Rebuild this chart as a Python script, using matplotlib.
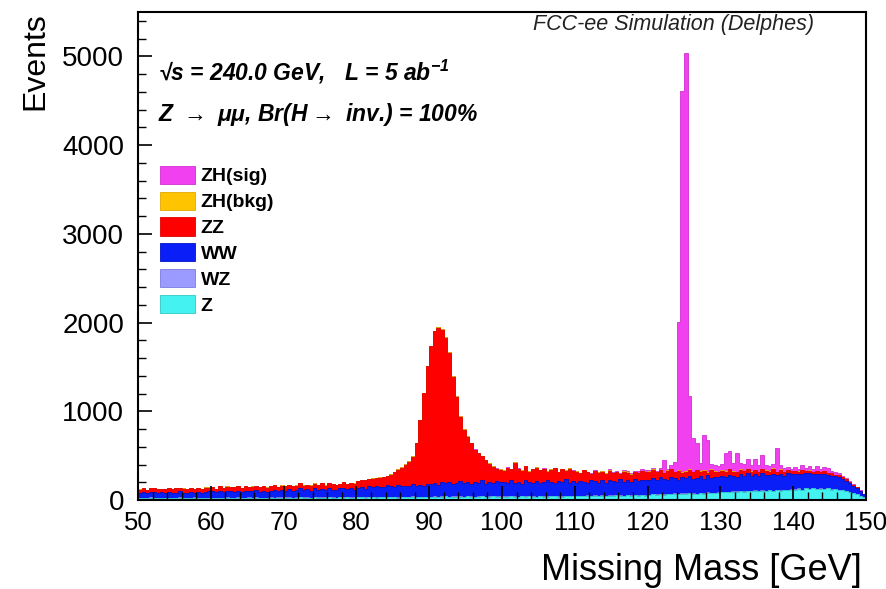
import numpy as np
import matplotlib.pyplot as plt
from matplotlib.ticker import MultipleLocator

plt.rcParams['font.family'] = ['Liberation Sans', 'DejaVu Sans']
plt.rcParams['mathtext.default'] = 'regular'

# 200 bins of 0.5 GeV between 50 and 150 GeV
mass_edges = np.arange(50.0, 150.25, 0.5)
mass_centers = 0.5 * (mass_edges[:-1] + mass_edges[1:])

# events per bin (rows = 10 GeV)
z_counts = [
    18, 22, 20, 25, 19, 21, 23, 17, 22, 24, 20, 26, 21, 19, 23, 25, 20, 22, 24, 21,
    23, 20, 25, 22, 27, 21, 24, 26, 22, 20, 25, 23, 28, 22, 24, 21, 26, 23, 25, 27,
    24, 28, 23, 26, 30, 25, 27, 24, 29, 26, 28, 25, 31, 27, 24, 29, 26, 30, 28, 25,
    29, 32, 27, 31, 34, 28, 30, 33, 29, 35, 31, 28, 34, 30, 33, 36, 29, 32, 35, 31,
    34, 38, 31, 36, 40, 33, 37, 35, 39, 34, 41, 36, 33, 38, 40, 35, 37, 42, 36, 39,
    38, 35, 41, 37, 34, 40, 36, 43, 38, 35, 42, 39, 37, 41, 44, 38, 36, 43, 40, 45,
    42, 46, 40, 48, 44, 47, 43, 50, 45, 49, 46, 52, 48, 44, 51, 47, 53, 49, 55, 50,
    56, 62, 58, 65, 60, 68, 63, 70, 66, 72, 69, 75, 71, 68, 77, 73, 80, 76, 74, 82,
    85, 90, 88, 95, 92, 98, 94, 101, 97, 104, 99, 106, 102, 108, 100, 111, 105, 113, 109, 115,
    118, 125, 112, 130, 121, 135, 124, 128, 119, 132, 115, 122, 108, 112, 96, 90, 75, 62, 48, 35,
]
wz_counts = [
    4, 3, 5, 4, 3, 4, 5, 3, 4, 4, 3, 5, 4, 4, 3, 5, 4, 3, 4, 5,
    4, 5, 3, 4, 5, 4, 3, 5, 4, 4, 5, 3, 4, 5, 4, 4, 3, 5, 4, 4,
    5, 4, 4, 3, 5, 4, 5, 4, 3, 5, 4, 4, 5, 3, 4, 5, 4, 4, 5, 4,
    4, 5, 4, 5, 4, 3, 5, 4, 5, 4, 4, 5, 4, 3, 5, 4, 5, 4, 4, 5,
    5, 4, 5, 4, 5, 4, 4, 5, 4, 5, 4, 5, 4, 4, 5, 4, 5, 4, 5, 4,
    4, 5, 4, 5, 4, 5, 4, 4, 5, 4, 5, 4, 5, 4, 4, 5, 4, 5, 4, 5,
    5, 4, 5, 4, 5, 5, 4, 5, 4, 5, 5, 4, 5, 4, 5, 5, 4, 5, 4, 5,
    5, 5, 4, 5, 5, 4, 5, 5, 4, 5, 5, 4, 5, 5, 4, 5, 5, 4, 5, 5,
    5, 4, 5, 5, 4, 5, 5, 4, 5, 5, 4, 5, 5, 4, 5, 5, 4, 5, 5, 4,
    4, 5, 4, 5, 4, 4, 5, 4, 4, 3, 4, 3, 4, 3, 3, 2, 3, 2, 2, 1,
]
ww_counts = [
    55, 62, 50, 58, 66, 52, 60, 57, 64, 53, 61, 68, 56, 59, 63, 51, 67, 58, 62, 70,
    72, 60, 78, 65, 70, 82, 63, 75, 68, 80, 66, 73, 85, 62, 77, 70, 74, 88, 67, 79,
    76, 90, 72, 84, 95, 80, 88, 74, 98, 85, 92, 79, 102, 88, 83, 96, 105, 90, 99, 86,
    104, 112, 98, 118, 108, 125, 115, 104, 130, 120, 112, 135, 122, 128, 118, 140, 126, 132, 124, 145,
    136, 150, 128, 158, 142, 165, 138, 155, 170, 147, 160, 135, 168, 152, 176, 145, 162, 150, 172, 158,
    160, 148, 175, 152, 168, 140, 182, 158, 150, 172, 145, 165, 178, 155, 142, 170, 160, 185, 150, 163,
    148, 165, 155, 140, 172, 158, 150, 168, 145, 176, 162, 152, 180, 158, 166, 148, 185, 160, 170, 175,
    165, 185, 158, 190, 172, 150, 195, 168, 160, 182, 175, 192, 165, 178, 188, 160, 195, 172, 185, 170,
    178, 165, 190, 172, 160, 185, 170, 195, 168, 180, 162, 188, 175, 170, 192, 165, 180, 158, 185, 172,
    170, 158, 182, 165, 175, 150, 168, 160, 172, 145, 155, 140, 148, 125, 120, 100, 85, 70, 50, 30,
]
zz_counts = [
    40, 45, 38, 48, 42, 50, 36, 46, 44, 40, 52, 38, 47, 43, 49, 41, 45, 39, 50, 44,
    48, 42, 52, 45, 50, 40, 55, 47, 43, 53, 46, 51, 41, 56, 48, 44, 54, 49, 45, 52,
    50, 45, 55, 48, 58, 52, 46, 60, 53, 49, 62, 55, 50, 64, 57, 52, 66, 58, 54, 68,
    78, 72, 96, 82, 94, 88, 101, 119, 102, 126, 163, 173, 205, 238, 275, 310, 481, 732, 1042, 1325,
    1556, 1708, 1777, 1722, 1644, 1458, 1211, 971, 727, 605, 510, 465, 360, 336, 270, 266, 207, 179, 138, 139,
    128, 173, 125, 227, 144, 146, 158, 115, 153, 154, 144, 142, 101, 140, 170, 98, 145, 98, 161, 113,
    126, 85, 136, 118, 70, 116, 108, 93, 101, 101, 88, 102, 58, 114, 84, 86, 73, 87, 96, 81,
    95, 89, 90, 76, 64, 103, 83, 68, 100, 42, 72, 69, 70, 85, 46, 93, 26, 88, 57, 54,
    63, 56, 63, 49, 54, 53, 57, 50, 46, 47, 45, 47, 49, 38, 54, 35, 51, 35, 37, 34,
    35, 30, 40, 28, 32, 25, 30, 22, 28, 20, 25, 18, 20, 15, 18, 12, 10, 8, 6, 4,
]
zh_bkg_counts = [
    2, 3, 2, 3, 2, 2, 3, 2, 3, 2, 3, 2, 2, 3, 2, 3, 2, 2, 3, 2,
    3, 2, 3, 2, 3, 3, 2, 3, 2, 3, 2, 3, 3, 2, 3, 2, 3, 2, 3, 3,
    3, 3, 2, 3, 3, 4, 3, 3, 4, 3, 3, 4, 3, 3, 4, 3, 4, 3, 4, 3,
    4, 3, 4, 4, 3, 4, 4, 3, 4, 4, 4, 5, 4, 4, 5, 4, 5, 5, 6, 6,
    7, 7, 8, 7, 7, 6, 6, 5, 5, 5, 4, 5, 4, 4, 5, 4, 4, 5, 4, 4,
    4, 5, 4, 4, 5, 4, 5, 4, 4, 5, 4, 5, 4, 5, 4, 5, 5, 4, 5, 5,
    5, 4, 5, 5, 6, 5, 5, 6, 5, 6, 5, 6, 6, 5, 6, 6, 5, 6, 6, 7,
    6, 7, 6, 7, 7, 8, 7, 8, 9, 10, 9, 8, 8, 7, 7, 8, 7, 7, 6, 7,
    6, 7, 6, 6, 7, 6, 6, 5, 6, 6, 5, 6, 5, 5, 6, 5, 5, 4, 5, 5,
    4, 5, 4, 4, 5, 4, 4, 3, 4, 3, 3, 3, 2, 2, 2, 2, 1, 1, 1, 1,
]
zh_sig_counts = [
    0, 0, 0, 0, 0, 0, 0, 0, 0, 0, 0, 0, 0, 0, 0, 0, 0, 0, 0, 0,
    0, 0, 0, 0, 0, 0, 0, 0, 0, 0, 0, 0, 0, 0, 0, 0, 0, 0, 0, 0,
    0, 0, 0, 0, 0, 0, 0, 0, 0, 0, 0, 0, 0, 0, 0, 0, 0, 0, 0, 0,
    0, 0, 0, 0, 0, 0, 0, 0, 0, 1, 0, 0, 1, 0, 0, 1, 0, 1, 0, 1,
    1, 0, 1, 1, 0, 1, 1, 0, 1, 1, 1, 0, 1, 1, 1, 1, 0, 1, 1, 1,
    1, 1, 1, 1, 2, 1, 1, 1, 2, 1, 1, 2, 1, 1, 2, 1, 2, 1, 2, 2,
    2, 3, 2, 4, 3, 5, 4, 6, 5, 8, 6, 10, 8, 12, 10, 15, 12, 18, 14, 20,
    15, 15, 15, 20, 145, 20, 40, 105, 1665, 4295, 4705, 825, 385, 300, 100, 395, 360, 55, 65, 65,
    70, 210, 200, 90, 215, 65, 70, 110, 75, 120, 85, 150, 60, 55, 50, 270, 45, 50, 30, 25,
    40, 30, 55, 25, 45, 30, 50, 35, 40, 60, 30, 25, 20, 15, 10, 8, 5, 3, 2, 1,
]

labels = ['Z', 'WZ', 'WW', 'ZZ', 'ZH(bkg)', 'ZH(sig)']
colors = ['#44f2f2', '#9a9aff', '#0a1ef8', '#ff0000', '#ffc400', '#f040f0']
edge_colors = ['#30c8c8', '#7a7ae0', '#0012c8', '#e00000', '#e0a800', '#d030d0']
series = [z_counts, wz_counts, ww_counts, zz_counts, zh_bkg_counts, zh_sig_counts]

fig = plt.figure(figsize=(8.86, 5.89), dpi=100)
ax = fig.add_axes([138 / 886, 1 - 500 / 589, 728 / 886, 488 / 589])

_, _, patches = ax.hist([mass_centers] * len(series), bins=mass_edges, weights=series,
                        stacked=True, histtype='stepfilled', color=colors, label=labels)
for poly, ec in zip(patches, edge_colors):
    for p in poly:
        p.set_edgecolor(ec)
        p.set_linewidth(0.6)

ax.set_xlim(50, 150)
ax.set_ylim(0, 5500)
ax.xaxis.set_major_locator(MultipleLocator(10))
ax.xaxis.set_minor_locator(MultipleLocator(2))
ax.yaxis.set_major_locator(MultipleLocator(1000))
ax.yaxis.set_minor_locator(MultipleLocator(200))
ax.tick_params(which='both', direction='in', top=False, right=False)
ax.tick_params(which='major', length=10, width=1.2)
ax.tick_params(which='minor', length=5.5, width=1.0)
ax.tick_params(axis='y', pad=10, labelsize=20)
ax.tick_params(axis='x', pad=8, labelsize=18.5)
for s in ax.spines.values():
    s.set_linewidth(1.5)

# legend from top of stack to bottom, as ROOT draws it
handles, labs = ax.get_legend_handles_labels()
by_label = dict(zip(labs, handles))
order = labels[::-1]
ax.legend([by_label[k] for k in order], order, loc='upper left', bbox_to_anchor=(0.03, 0.685),
          frameon=False, borderpad=0, borderaxespad=0, prop={'weight': 'bold', 'size': 14},
          handlelength=1.8, handleheight=1.05, labelspacing=0.32, handletextpad=0.3)

ax.text(0.0275, 0.877, '√s = 240.0 GeV,   L = 5 ab$^{-1}$', transform=ax.transAxes,
        fontsize=16.5, fontweight='bold', fontstyle='italic', va='center', ha='left')
ax.text(0.0275, 0.789, r'Z $\rightarrow$ μμ, Br(H$\rightarrow$ inv.) = 100%', transform=ax.transAxes,
        fontsize=16.5, fontweight='bold', fontstyle='italic', va='center', ha='left')
ax.text(0.9286, 0.975, 'FCC-ee Simulation (Delphes)', transform=ax.transAxes,
        fontsize=15.5, fontstyle='italic', va='center', ha='right', color='#222222')

fig.text(35 / 886, 1 - 12 / 589, 'Events', rotation=90, ha='center', va='top', fontsize=23)
fig.text(862 / 886, 1 - 570 / 589, 'Missing Mass [GeV]', ha='right', va='center', fontsize=26)

fig.savefig('out.png', dpi=100)
